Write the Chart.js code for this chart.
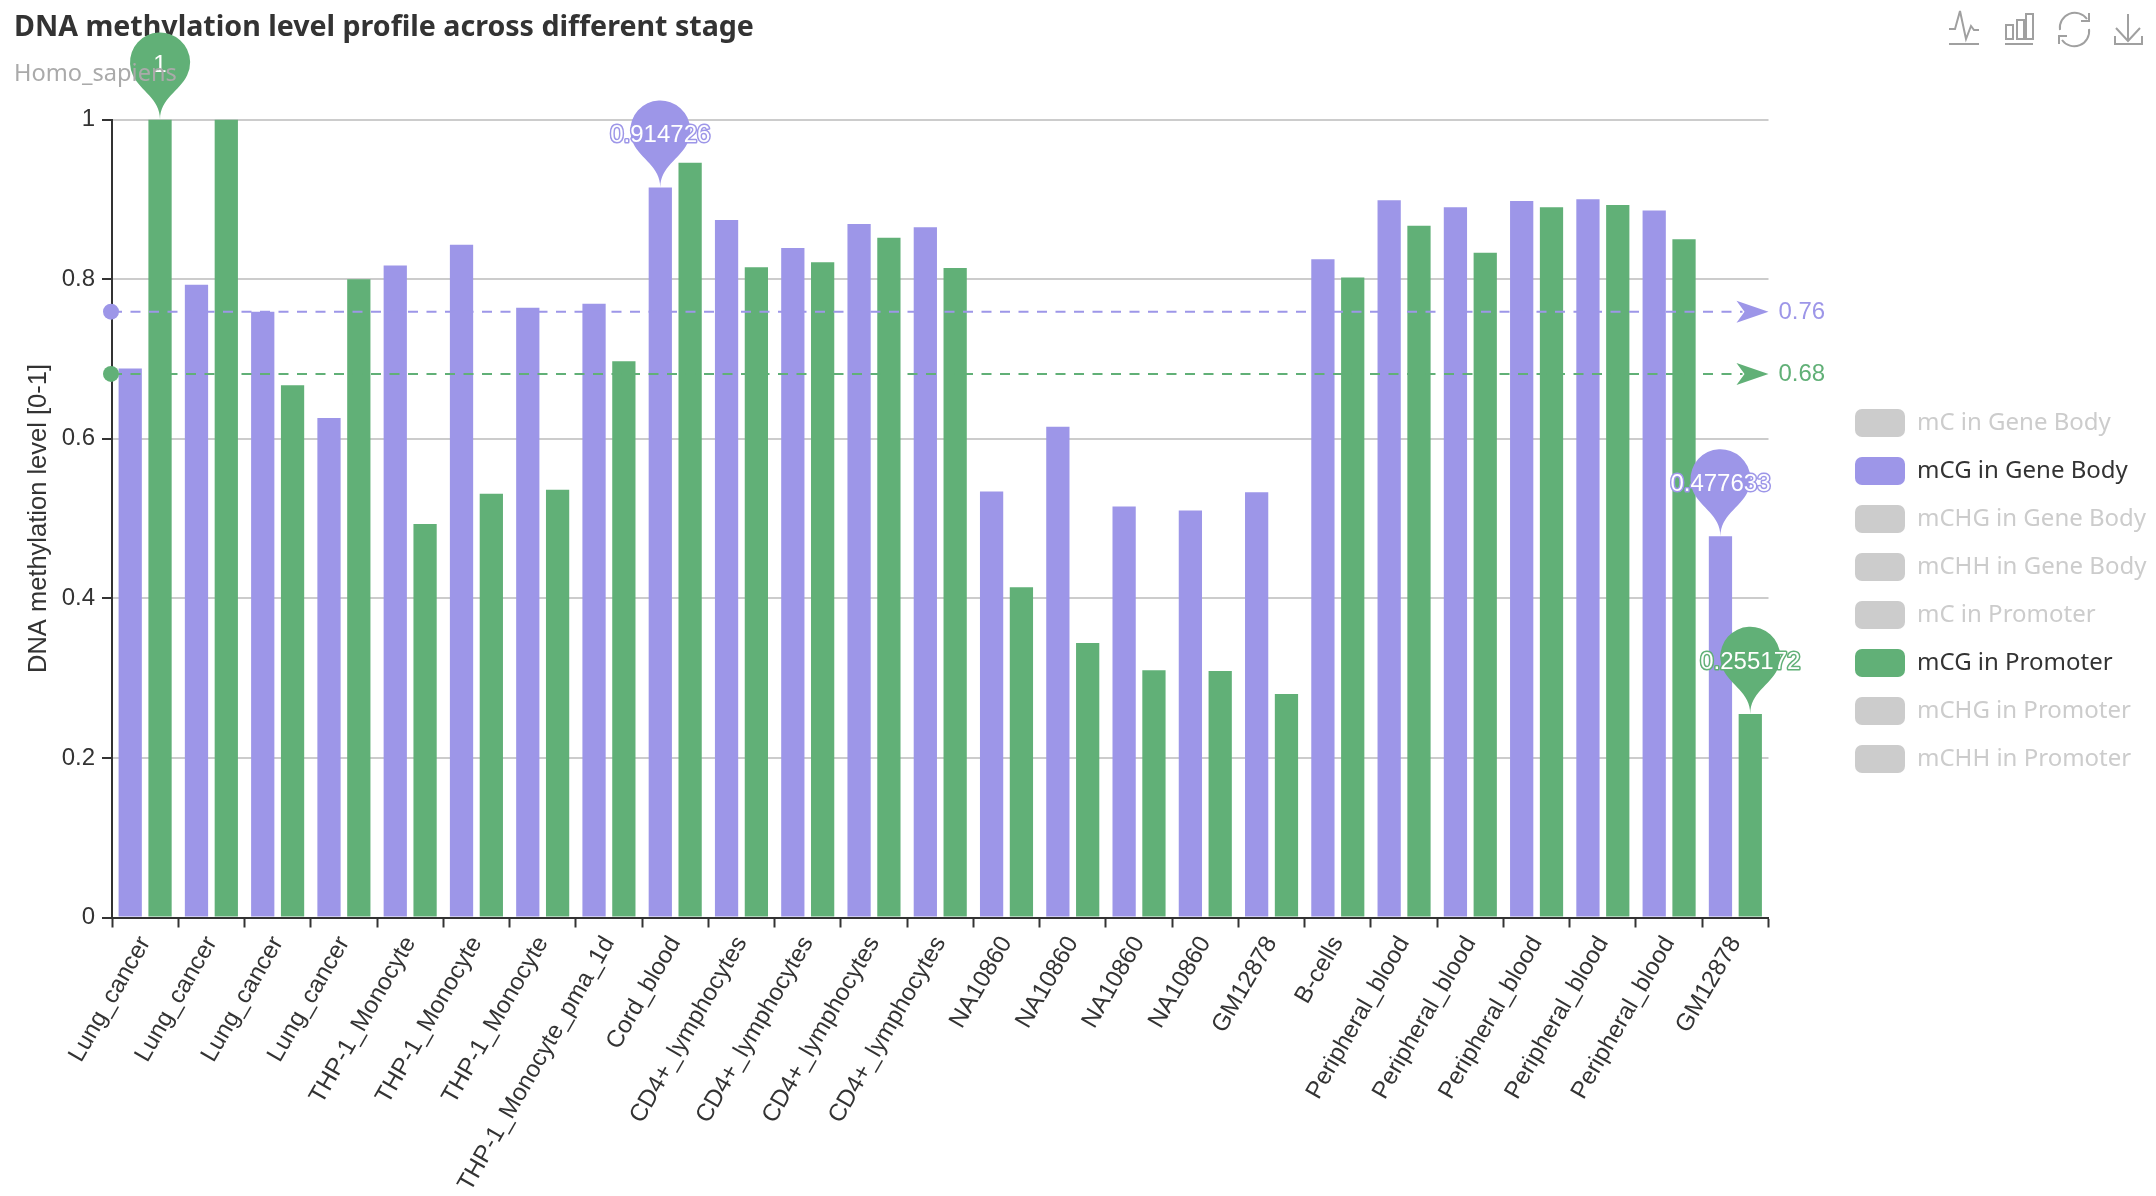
<!DOCTYPE html>
<html><head><meta charset="utf-8">
<style>html,body{margin:0;padding:0;background:#fff}#w{position:relative;width:2156px;height:1196px;overflow:hidden}canvas{display:block}svg{position:absolute;left:0;top:0}</style>
<script src="https://cdn.jsdelivr.net/npm/chart.js@4/dist/chart.umd.min.js"></script>
</head><body><div id="w"><canvas id="c" width="2156" height="1196"></canvas>
<svg width="2156" height="1196" fill="none" stroke="#a0a0a0" stroke-width="2">
<path d="M1949 44h30M1949 29h6l5-18 6 28 5-13 3 4h5"/>
<path d="M2005 44h28M2006 39V25h7v14zM2017 39V20h7v19zM2026 39V14h7v25z"/>
<path d="M2060 30a15 15 0 0 1 27-11M2089 13v8h-8M2089 29a15 15 0 0 1-27 11M2059 44v-8h8"/>
<path d="M2128 14v27M2116 28l12 13 12-13M2115 36v8h27v-8"/>
</svg></div>
<script>
const categories = ["Lung_cancer","Lung_cancer","Lung_cancer","Lung_cancer","THP-1_Monocyte","THP-1_Monocyte","THP-1_Monocyte","THP-1_Monocyte_pma_1d","Cord_blood","CD4+_lymphocytes","CD4+_lymphocytes","CD4+_lymphocytes","CD4+_lymphocytes","NA10860","NA10860","NA10860","NA10860","GM12878","B-cells","Peripheral_blood","Peripheral_blood","Peripheral_blood","Peripheral_blood","Peripheral_blood","GM12878"];
const mCGGeneBody = [0.688,0.793,0.759,0.626,0.817,0.843,0.764,0.769,0.914726,0.874,0.839,0.869,0.865,0.534,0.615,0.515,0.51,0.533,0.825,0.899,0.89,0.898,0.9,0.886,0.477633];
const mCGPromoter = [1,1,0.667,0.8,0.493,0.531,0.536,0.697,0.946,0.815,0.821,0.852,0.814,0.414,0.344,0.31,0.309,0.28,0.802,0.867,0.833,0.89,0.893,0.85,0.255172];
const legendNames = ["mC in Gene Body","mCG in Gene Body","mCHG in Gene Body","mCHH in Gene Body","mC in Promoter","mCG in Promoter","mCHG in Promoter","mCHH in Promoter"];
const yTicks = [0,0.2,0.4,0.6,0.8,1];
const meanGeneBody = 0.7592, meanPromoter = 0.6812;
const PURPLE = "#9d96e8", GREEN = "#61b077", GREY = "#cccccc";
const TICK_FONT = "'Liberation Sans', sans-serif";
const UI_FONT = "'Noto Sans', sans-serif";

const seriesData = {"mCG in Gene Body": mCGGeneBody, "mCG in Promoter": mCGPromoter};
const seriesColor = {"mCG in Gene Body": PURPLE, "mCG in Promoter": GREEN};
const datasets = legendNames.map(n => ({
  label: n,
  data: seriesData[n] || [],
  backgroundColor: seriesColor[n] || GREY,
  hidden: !seriesData[n],
  barPercentage: 0.78,
  categoryPercentage: 0.9
}));

function pinPath(ctx, x, y, w, hh) {
  const W = w / 5 * 3, h = Math.max(W, hh), r = W / 2, dy = r * r / (h - r), cy = y - h + r + dy;
  const a = Math.asin(dy / r), dx = Math.cos(a) * r, tx = Math.sin(a), ty = Math.cos(a);
  const c1 = r * 0.6, c2 = r * 0.7;
  ctx.beginPath();
  ctx.moveTo(x - dx, cy + dy);
  ctx.arc(x, cy, r, Math.PI - a, Math.PI * 2 + a);
  ctx.bezierCurveTo(x + dx - tx * c1, cy + dy + ty * c1, x, y - c2, x, y);
  ctx.bezierCurveTo(x, y - c2, x - dx + tx * c1, cy + dy + ty * c1, x - dx, cy + dy);
  ctx.closePath();
}
const overlay = {
  id: "overlay",
  beforeUpdate(chart) {
    const l = chart.legend;
    if (!l.__p) {
      const f = l.fit;
      l.fit = function () { f.call(this); this.width = 2156 - 1768.5; };
      l.__p = 1;
    }
    const sub = chart.boxes.find(b => b.options && b.options.text === "Homo_sapiens");
    if (sub) sub._layers = () => [{ z: 10, draw(a) { sub.draw(a); } }];
  },
  afterLayout(chart) {
    const l = chart.legend;
    l.left = 1835; l.right = 2156; l.top = 389; l.bottom = 1000;
  },
  afterDatasetsDraw(chart) {
    const ctx = chart.ctx, y = chart.scales.y, a = chart.chartArea;
    ctx.save();
    [[meanGeneBody, PURPLE], [meanPromoter, GREEN]].forEach(([v, col]) => {
      const py = y.getPixelForValue(v);
      ctx.strokeStyle = col; ctx.fillStyle = col; ctx.lineWidth = 2;
      ctx.setLineDash([10, 8.5]);
      ctx.beginPath(); ctx.moveTo(a.left, py); ctx.lineTo(a.right - 26, py); ctx.stroke();
      ctx.setLineDash([]);
      ctx.beginPath(); ctx.arc(a.left - 1, py, 8, 0, Math.PI * 2); ctx.fill();
      ctx.beginPath();
      ctx.moveTo(a.right, py); ctx.lineTo(a.right - 32, py - 11);
      ctx.lineTo(a.right - 24, py); ctx.lineTo(a.right - 32, py + 11); ctx.closePath(); ctx.fill();
      ctx.font = "24px " + TICK_FONT; ctx.textAlign = "left"; ctx.textBaseline = "middle";
      ctx.fillText(v.toFixed(2), a.right + 10, py + 0.5);
    });
    const pin = (dsIndex, i, col) => {
      const el = chart.getDatasetMeta(dsIndex).data[i];
      const v = chart.data.datasets[dsIndex].data[i];
      pinPath(ctx, el.x, el.y, 100, 100);
      ctx.fillStyle = col; ctx.fill();
      const ty = el.y - (v === 1 ? 54 : 52);
      ctx.font = "24px " + TICK_FONT; ctx.textAlign = "center"; ctx.textBaseline = "middle";
      ctx.lineWidth = 3; ctx.lineJoin = "round"; ctx.strokeStyle = col;
      ctx.strokeText(String(v), el.x, ty);
      ctx.fillStyle = "#fff"; ctx.fillText(String(v), el.x, ty);
    };
    const maxI = s => s.indexOf(Math.max(...s)), minI = s => s.indexOf(Math.min(...s));
    pin(1, maxI(mCGGeneBody), PURPLE);
    pin(1, minI(mCGGeneBody), PURPLE);
    pin(5, maxI(mCGPromoter), GREEN);
    pin(5, minI(mCGPromoter), GREEN);
    ctx.restore();
  }
};

new Chart(document.getElementById("c"), {
  type: "bar",
  data: { labels: categories, datasets },
  plugins: [overlay],
  options: {
    responsive: false, animation: false, devicePixelRatio: 1,
    layout: { padding: { left: 14, right: 0, top: 0, bottom: 0 } },
    plugins: {
      tooltip: { enabled: false },
      title: { display: true, text: "DNA methylation level profile across different stage", align: "start", color: "#333",
        font: { family: UI_FONT, size: 28.6, weight: "bold", lineHeight: 1.2 }, padding: { top: 11, bottom: 0 } },
      subtitle: { display: true, text: "Homo_sapiens", align: "start", color: "#aaa",
        font: { family: UI_FONT, size: 23.6, weight: "normal", lineHeight: 1.2 }, padding: { top: 14.5, bottom: 31.4 } },
      legend: {
        display: true, position: "right", align: "start",
        onClick: null,
        labels: {
          boxWidth: 50, boxHeight: 28, padding: 20, useBorderRadius: true, borderRadius: 7,
          font: { family: UI_FONT, size: 24 },
          generateLabels: () => legendNames.map((n, i) => ({
            text: n, fillStyle: seriesColor[n] || GREY, strokeStyle: "transparent", lineWidth: 0,
            fontColor: seriesData[n] ? "#333" : GREY, hidden: false, datasetIndex: i,
            borderRadius: 7
          }))
        }
      }
    },
    scales: {
      x: {
        offset: true,
        afterFit(s) { s.height = 278.5; },
        border: { color: "#333", width: 2 },
        grid: { drawOnChartArea: false, drawTicks: true, tickLength: 10, tickColor: "#333", tickWidth: 2, offset: true },
        ticks: { autoSkip: false, minRotation: 60, maxRotation: 60, color: "#333", padding: 4, font: { family: TICK_FONT, size: 24.2 } }
      },
      y: {
        min: 0, max: 1,
        afterFit(s) { s.width = 98; },
        afterBuildTicks(s) { s.ticks = yTicks.map(v => ({ value: v })); },
        border: { color: "#333", width: 2 },
        grid: { color: "#ccc", lineWidth: 2, tickLength: 10, tickColor: "#333", tickWidth: 2 },
        ticks: { color: "#333", padding: 7, font: { family: TICK_FONT, size: 24 }, callback: v => String(v) },
        title: { display: true, text: "DNA methylation level [0-1]", color: "#333", padding: { top: 9.5, bottom: 0 },
          font: { family: TICK_FONT, size: 25.5 } }
      }
    }
  }
});
</script></body></html>
